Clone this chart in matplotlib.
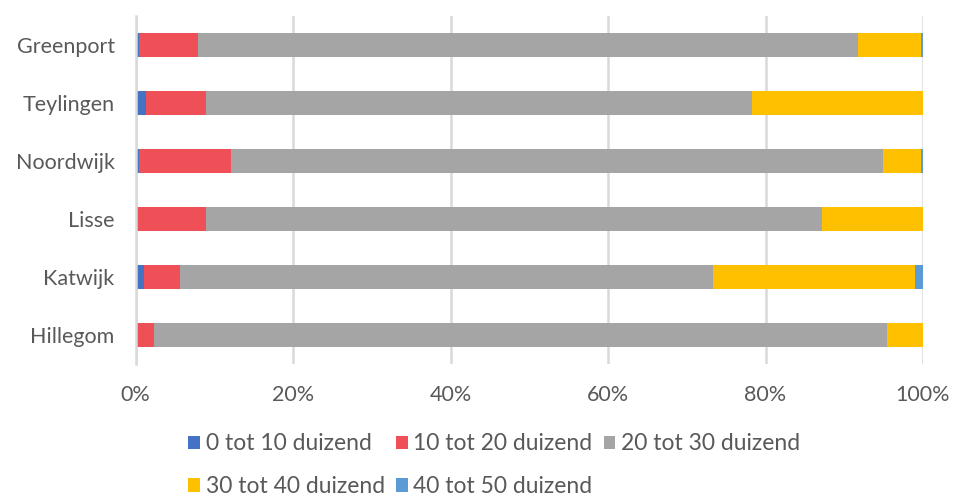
import numpy as np
import matplotlib.pyplot as plt
from matplotlib.ticker import PercentFormatter

# data (share of households per income class, %)
gemeenten = ['Hillegom', 'Katwijk', 'Lisse', 'Noordwijk', 'Teylingen', 'Greenport']
klassen = ['0 tot 10 duizend', '10 tot 20 duizend', '20 tot 30 duizend',
           '30 tot 40 duizend', '40 tot 50 duizend']
k0_10 = [0.0, 1.1, 0.0, 0.5, 1.3, 0.4]
k10_20 = [2.3, 4.6, 8.9, 11.6, 7.7, 7.5]
k20_30 = [93.1, 67.6, 78.3, 82.8, 69.3, 83.8]
k30_40 = [4.6, 25.7, 12.8, 4.9, 21.7, 8.1]
k40_50 = [0.0, 1.0, 0.0, 0.2, 0.0, 0.2]

kleuren = ['#4472C4', '#EF5058', '#A5A5A5', '#FFC000', '#5B9BD5']
tekst = '#595959'

plt.rcParams['font.family'] = ['Lato', 'DejaVu Sans']

fig = plt.figure(figsize=(9.55, 4.96), dpi=100)
ax = fig.add_axes([135.5 / 955, 1 - 364 / 496, (923 - 135.5) / 955, (364 - 16) / 496])

y = np.arange(len(gemeenten))
links = np.zeros(len(gemeenten))
handles = []
for reeks, naam, kleur in zip([k0_10, k10_20, k20_30, k30_40, k40_50], klassen, kleuren):
    vals = np.array(reeks)
    b = ax.barh(y, vals, left=links, height=0.4, color=kleur, label=naam, zorder=3)
    handles.append(b)
    links += vals

ax.set_xlim(0, 100)
ax.set_ylim(-0.5, len(gemeenten) - 0.5)
ax.set_xticks(np.arange(0, 101, 20))
ax.xaxis.set_major_formatter(PercentFormatter(decimals=0))
ax.set_yticks(y)
ax.set_yticklabels(gemeenten)
ax.grid(axis='x', color='#D9D9D9', linewidth=1.8, zorder=0)
for s in ['top', 'right', 'bottom']:
    ax.spines[s].set_visible(False)
ax.spines['left'].set_color('#D9D9D9')
ax.spines['left'].set_linewidth(1.8)
ax.spines['left'].set_zorder(4)
ax.tick_params(length=0, colors=tekst)
for lab in ax.get_xticklabels() + ax.get_yticklabels():
    lab.set_fontsize(15.5)
ax.tick_params(axis='x', pad=15)
ax.tick_params(axis='y', pad=15)

# row-wise order for a 3-column legend
volgorde = [0, 3, 1, 4, 2]
leg = fig.legend([handles[i] for i in volgorde], [klassen[i] for i in volgorde],
                 ncol=3, loc='upper left', bbox_to_anchor=(170 / 955, 1 - 415 / 496),
                 frameon=False, handlelength=0.5, handleheight=0.5, handletextpad=0.25,
                 columnspacing=0.5, labelspacing=0.95, borderpad=0.3,
                 prop={'size': 16.5})
for t in leg.get_texts():
    t.set_color(tekst)

fig.savefig('out.png', dpi=100)
